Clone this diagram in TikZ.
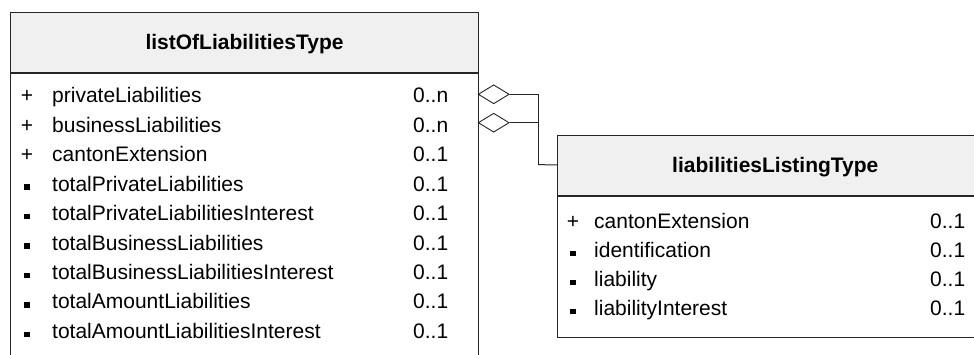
\documentclass[tikz,border=0pt]{standalone}
\usepackage{fontspec}
\setmainfont{Liberation Sans}
\usepackage{tikz}
\usetikzlibrary{shapes.geometric, positioning}
\definecolor{umlLine}{RGB}{38, 38, 38}
\definecolor{umlHead}{RGB}{240, 240, 240}
\newcommand{\attsq}{\rule[1.2pt]{5.5pt}{5.5pt}}

\begin{document}
\begin{tikzpicture}[
  x=1pt, y=-1pt,
  classhead/.style={rectangle, draw=umlLine, fill=umlHead, line width=1pt, anchor=north west,
                    text height=15pt, text depth=0pt, inner sep=0pt,
                    font=\fontsize{21pt}{25pt}\selectfont\bfseries},
  classbody/.style={rectangle, draw=umlLine, fill=white, line width=1pt, anchor=north west, inner sep=0pt},
  attr/.style={anchor=base west, inner sep=0pt, font=\fontsize{21pt}{25pt}\selectfont},
  attmark/.style={anchor=base, inner sep=0pt, font=\fontsize{21pt}{25pt}\selectfont},
  aggr/.style={diamond, draw=umlLine, fill=white, line width=0.9pt, inner sep=0pt,
               minimum width=31pt, minimum height=19pt, aspect=1.63},
  assoc/.style={draw=umlLine, line width=1pt}
]
  \clip (0,0) rectangle (974,354);

  % Classe listOfLiabilitiesType
  \node[classhead, minimum width=468pt, minimum height=60pt] (lolHead) at (10,11.7) {listOfLiabilitiesType};
  \node[classbody, minimum width=468pt, minimum height=320pt] (lolBody) at (lolHead.south west) {};

  \node[attmark] (lolM1) at (27,102.7) {+};      \node[attr] (lolA1) at (52,102.7) {privateLiabilities};                \node[attr] (lolC1) at (413,102.7) {0..n};
  \node[attmark] (lolM2) at (27,132.2) {+};      \node[attr] (lolA2) at (52,132.2) {businessLiabilities};               \node[attr] (lolC2) at (413,132.2) {0..n};
  \node[attmark] (lolM3) at (27,161.6) {+};      \node[attr] (lolA3) at (52,161.6) {cantonExtension};                   \node[attr] (lolC3) at (413,161.6) {0..1};
  \node[attmark] (lolM4) at (27,191.1) {\attsq}; \node[attr] (lolA4) at (52,191.1) {totalPrivateLiabilities};           \node[attr] (lolC4) at (413,191.1) {0..1};
  \node[attmark] (lolM5) at (27,220.5) {\attsq}; \node[attr] (lolA5) at (52,220.5) {totalPrivateLiabilitiesInterest};   \node[attr] (lolC5) at (413,220.5) {0..1};
  \node[attmark] (lolM6) at (27,250.0) {\attsq}; \node[attr] (lolA6) at (52,250.0) {totalBusinessLiabilities};          \node[attr] (lolC6) at (413,250.0) {0..1};
  \node[attmark] (lolM7) at (27,279.4) {\attsq}; \node[attr] (lolA7) at (52,279.4) {totalBusinessLiabilitiesInterest};  \node[attr] (lolC7) at (413,279.4) {0..1};
  \node[attmark] (lolM8) at (27,308.9) {\attsq}; \node[attr] (lolA8) at (52,308.9) {totalAmountLiabilities};            \node[attr] (lolC8) at (413,308.9) {0..1};
  \node[attmark] (lolM9) at (27,338.3) {\attsq}; \node[attr] (lolA9) at (52,338.3) {totalAmountLiabilitiesInterest};    \node[attr] (lolC9) at (413,338.3) {0..1};

  % Classe liabilitiesListingType
  \node[classhead, minimum width=435pt, minimum height=60pt] (lltHead) at (557.3,134.5) {liabilitiesListingType};
  \node[classbody, minimum width=435pt, minimum height=141.5pt] (lltBody) at (lltHead.south west) {};

  \node[attmark] (lltM1) at (573,228.5) {+};      \node[attr] (lltA1) at (594,228.5) {cantonExtension};   \node[attr] (lltC1) at (930,228.5) {0..1};
  \node[attmark] (lltM2) at (573,257.5) {\attsq}; \node[attr] (lltA2) at (594,257.5) {identification};    \node[attr] (lltC2) at (930,257.5) {0..1};
  \node[attmark] (lltM3) at (573,286.5) {\attsq}; \node[attr] (lltA3) at (594,286.5) {liability};         \node[attr] (lltC3) at (930,286.5) {0..1};
  \node[attmark] (lltM4) at (573,315.5) {\attsq}; \node[attr] (lltA4) at (594,315.5) {liabilityInterest}; \node[attr] (lltC4) at (930,315.5) {0..1};

  % Agrégations
  \node[aggr] (aggPriv) at (493.7,94.3)  {};
  \node[aggr] (aggBus)  at (493.7,122.7) {};
  \coordinate (lltBend) at (538.3,164.6);

  \draw[assoc] (aggPriv.east) -| (lltBend);
  \draw[assoc] (aggBus.east)  -| (lltBend);
  \draw[assoc] (lltBend) -- (lltHead.west);
\end{tikzpicture}
\end{document}
